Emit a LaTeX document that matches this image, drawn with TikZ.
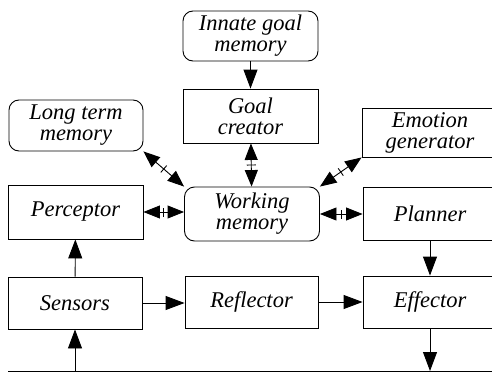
\documentclass[tikz,border=0pt]{standalone}
\usepackage{fontspec}
\setmainfont{Liberation Serif}
\usetikzlibrary{arrows.meta,decorations.markings}
\tikzset{% common styles of the agent diagram
  block/.style  = {shape=rectangle, draw, align=center,
                   minimum width=135pt, minimum height=54pt,
                   inner sep=0pt, line width=0.9pt,
                   font=\itshape\fontsize{22.5}{21}\selectfont},
  memory/.style = {block, rounded corners=10pt},
  tip/.tip      = {Triangle[length=19pt,width=14pt]},
  duotip/.tip   = {Triangle[length=16.5pt,width=13pt]},
  link/.style   = {draw, line width=0.9pt, -tip},
  duplex/.style = {draw, line width=0.9pt, duotip-duotip,
                   postaction={decorate},
                   decoration={markings, mark=at position 0.5 with
                     {\draw[arrows=-, line width=0.9pt] (0,-4.5pt) -- (0,4.5pt);}}},
}
\begin{document}
\begin{tikzpicture}[x=1pt, y=-1pt]
  \useasboundingbox (0,0) rectangle (492,372);
  \clip (0,0) rectangle (492,372);
  % top row
  \node [memory, minimum height=50pt] (innate)   at (250.5,36)  {Innate goal\\memory};
  \node [block]                       (goal)     at (250.5,116) {Goal\\creator};
  \node [memory, minimum width=134pt, minimum height=51pt]
                                      (longterm) at (76,125.5)  {Long term\\memory};
  \node [block, minimum width=136pt, minimum height=49pt]
                                      (emotion)  at (430,132.5) {Emotion\\generator};
  % middle row
  \node [block]                       (perceptor) at (75.5,212) {Perceptor};
  \node [memory]                      (working)   at (252,214)  {Working\\memory};
  \node [block, minimum width=134pt, minimum height=53pt]
                                      (planner)   at (430,213.5) {Planner};
  % bottom row
  \node [block, minimum width=134pt, minimum height=52pt]
                                      (sensors)   at (75,303)   {Sensors};
  \node [block, minimum width=133pt, minimum height=52pt]
                                      (reflector) at (251.5,302) {Reflector};
  \node [block, minimum width=134pt, minimum height=52pt]
                                      (effector)  at (430,302)  {Effector};
  % environment line
  \coordinate (env west) at (8,371);
  \coordinate (env east) at (510,371);
  \draw [line width=0.9pt] (env west) -- (env east);
  % connectors
  \draw [link]   (innate) -- (goal);
  \draw [duplex] (goal) -- (working);
  \draw [duplex] (longterm.south east) -- (working.north west);
  \draw [duplex] (emotion.south west) -- (working.north east);
  \draw [duplex] (perceptor.east) -- (perceptor.east -| working.west);
  \draw [duplex] (working.east) -- (working.east -| planner.west);
  \draw [link]   (planner) -- (effector);
  \draw [link]   (sensors) -- (perceptor);
  \draw [link]   (sensors) -- (sensors.east -| reflector.west);
  \draw [link]   (reflector) -- (reflector.east -| effector.west);
  \draw [link]   (sensors.south |- env west) -- (sensors.south);
  \draw [link]   (effector.south) -- (effector.south |- env west);
\end{tikzpicture}
\end{document}
